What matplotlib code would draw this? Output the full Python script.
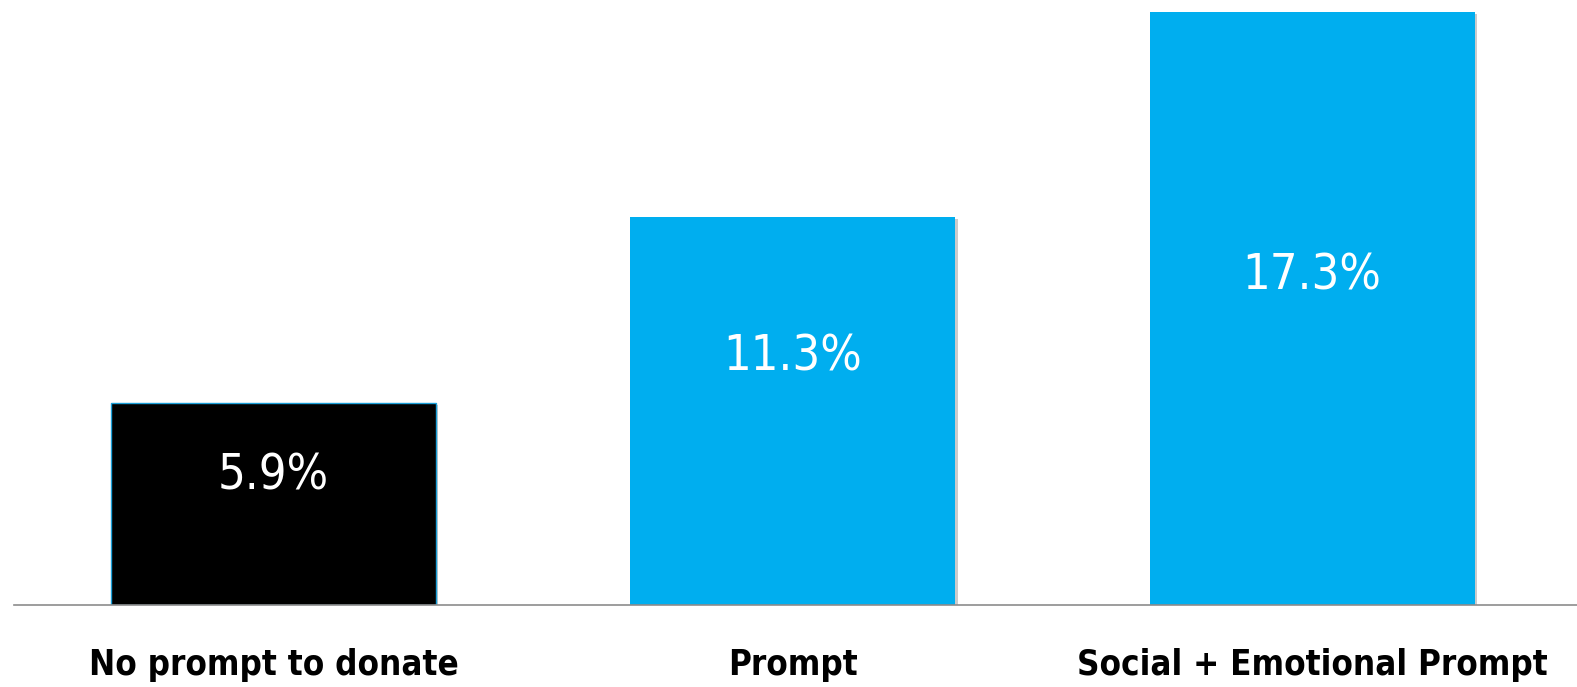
import matplotlib.pyplot as plt
import matplotlib.patheffects as pe

categories = ["No prompt to donate", "Prompt", "Social + Emotional Prompt"]
rates = [5.9, 11.3, 17.3]
colors = ["#000000", "#00AEEF", "#00AEEF"]
value_labels = ["5.9%", "11.3%", "17.3%"]

fig = plt.figure(figsize=(15.77, 6.87), dpi=100)
ax = fig.add_axes([14 / 1577, 82 / 687, 1563 / 1577, 605 / 687])

x = range(len(categories))
shadow = [pe.SimplePatchShadow(offset=(1.5, -1.5), shadow_rgbFace="#999999", alpha=0.5), pe.Normal()]
bars = ax.bar(x, rates, width=0.626, color=colors, zorder=2)
for b in bars:
    b.set_path_effects(shadow)
bars[0].set_edgecolor("#1a9fd8")
bars[0].set_linewidth(1)

# value labels sit a bit above the middle of each bar
label_frac = [0.64, 0.64, 0.556]
for i, (v, txt) in enumerate(zip(rates, value_labels)):
    ax.text(i, v * label_frac[i], txt, ha="center", va="center", color="white",
            fontsize=35, family="DejaVu Sans", fontstretch="condensed")

ax.set_xlim(-0.5, 2.51)
ax.set_ylim(0, 605 / 34.3)
for s in ["top", "right", "left"]:
    ax.spines[s].set_visible(False)
ax.spines["bottom"].set_color("#8c8c8c")
ax.spines["bottom"].set_linewidth(1.2)
ax.spines["bottom"].set_zorder(3)
ax.set_yticks([])
ax.set_xticks(list(x))
ax.set_xticklabels(categories, fontsize=25, fontweight="bold", family="DejaVu Sans",
                   fontstretch="condensed")
ax.tick_params(axis="x", length=0, pad=31)

fig.savefig("out.png", dpi=100)
